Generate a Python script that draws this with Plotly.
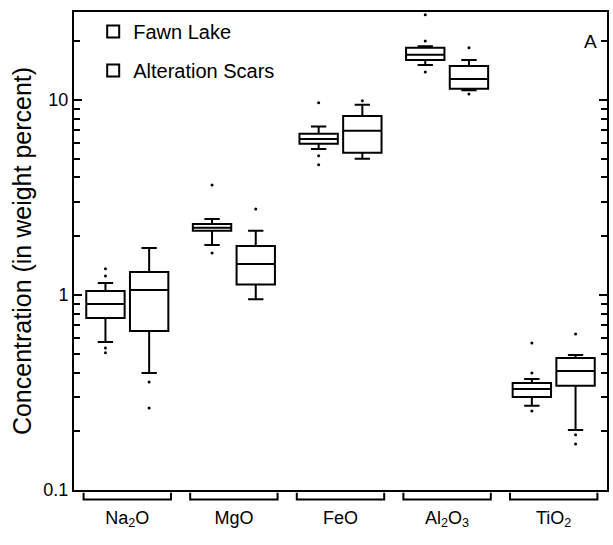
import plotly.graph_objects as go

categories = ["Na<sub>2</sub>O", "MgO", "FeO", "Al<sub>2</sub>O<sub>3</sub>", "TiO<sub>2</sub>"]
series_names = ["Fawn Lake", "Alteration Scars"]

# Fawn Lake statistics
fawn_q1 = [0.762, 2.13, 5.95, 16.0, 0.300]
fawn_median = [0.899, 2.21, 6.3, 17.0, 0.329]
fawn_q3 = [1.048, 2.31, 6.7, 18.5, 0.354]
fawn_lower = [0.574, 1.80, 5.6, 15.1, 0.270]
fawn_upper = [1.152, 2.45, 7.3, 18.8, 0.371]
fawn_outliers = [[1.36, 1.25, 0.535, 0.505], [3.66, 1.64], [9.66, 5.16, 4.64], [20.0, 27.3, 13.9], [0.567, 0.398, 0.254]]

# Alteration Scars statistics
alt_q1 = [0.654, 1.13, 5.35, 11.4, 0.342]
alt_median = [1.06, 1.44, 6.93, 12.8, 0.407]
alt_q3 = [1.31, 1.78, 8.27, 14.9, 0.475]
alt_lower = [0.398, 0.95, 4.98, 11.2, 0.203]
alt_upper = [1.74, 2.13, 9.42, 16.0, 0.492]
alt_outliers = [[0.358, 0.263], [2.76], [9.9], [10.7, 18.5], [0.631, 0.192, 0.172]]

FONT = "Arial, Liberation Sans, sans-serif"
offset = 0.205
bw = 0.36

fig = go.Figure()
stats = [
    (series_names[0], -offset, fawn_q1, fawn_median, fawn_q3, fawn_lower, fawn_upper, fawn_outliers),
    (series_names[1], offset, alt_q1, alt_median, alt_q3, alt_lower, alt_upper, alt_outliers),
]
for k, (name, off, q1, med, q3, lo, up, outs) in enumerate(stats):
    xs = [i + off for i in range(len(categories))]
    fig.add_trace(go.Box(
        name=name, x=xs, q1=q1, median=med, q3=q3, lowerfence=lo, upperfence=up,
        width=bw, whiskerwidth=0.4, boxpoints=False,
        fillcolor="white", line=dict(color="black", width=2),
        legendgroup=f"g{k}", showlegend=True,
    ))
    ox, oy = [], []
    for i, vals in enumerate(outs):
        for v in vals:
            ox.append(i + off)
            oy.append(v)
    fig.add_trace(go.Scatter(
        x=ox, y=oy, mode="markers", marker=dict(color="black", size=3),
        showlegend=False, legendgroup=f"g{k}", hoverinfo="y",
    ))

# category brackets under the axis
for i in range(len(categories)):
    fig.add_shape(type="path", xref="x", yref="paper",
                  path=f"M {i-0.41},-0.006 L {i-0.41},-0.02 L {i+0.41},-0.02 L {i+0.41},-0.006",
                  line=dict(color="black", width=2))

fig.add_annotation(text="A", x=0.985, y=0.965, xref="paper", yref="paper",
                   showarrow=False, font=dict(size=19, color="black", family=FONT))

fig.update_layout(
    width=613, height=545,
    margin=dict(l=74, r=4, t=12, b=55),
    paper_bgcolor="white", plot_bgcolor="white",
    font=dict(family=FONT, color="black", size=18),
    legend=dict(x=0.036, y=1.0, xanchor="left", yanchor="top",
                traceorder="grouped", tracegroupgap=10,
                font=dict(size=20, family=FONT), bgcolor="rgba(0,0,0,0)"),
    showlegend=True,
)
fig.update_xaxes(
    range=[-0.5, 4.5], tickmode="array", tickvals=list(range(len(categories))),
    ticktext=categories, ticks="", showgrid=False, zeroline=False,
    showline=True, linecolor="black", linewidth=2, mirror=True,
    tickfont=dict(size=18), ticklabelstandoff=10,
)
fig.update_yaxes(
    type="log", range=[-1, 1.45], tickmode="array", tickvals=[0.1, 1, 10],
    ticktext=["0.1", "1", "10"], ticks="inside", ticklen=8, tickwidth=2,
    tickcolor="black", showgrid=False, zeroline=False,
    showline=True, linecolor="black", linewidth=2, mirror="allticks",
    minor=dict(ticks="inside", ticklen=6, tickwidth=2, tickcolor="black",
               tickvals=[v * d for d in (0.1, 1, 10) for v in range(2, 10)], showgrid=False),
    title=dict(text="Concentration (in weight percent)", font=dict(size=25), standoff=5),
    tickfont=dict(size=18),
)

fig.write_html("out.html")
